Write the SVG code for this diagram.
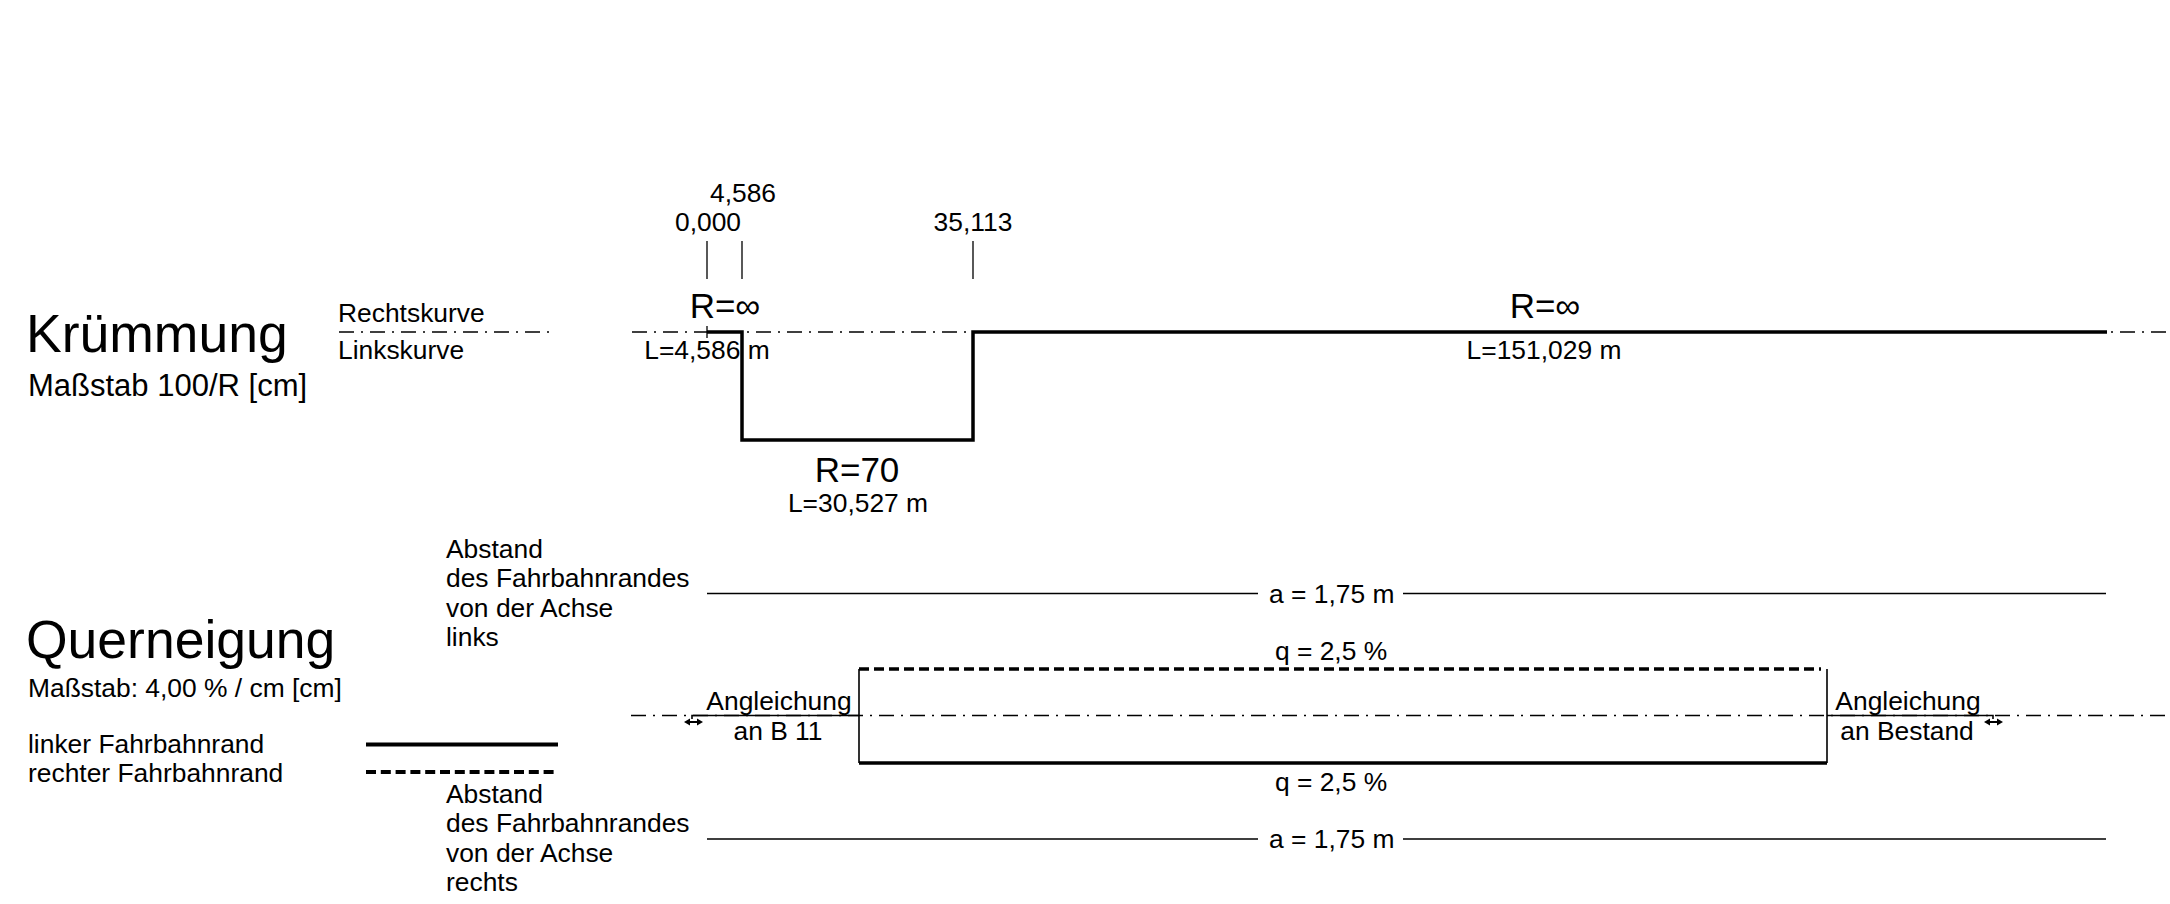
<svg xmlns="http://www.w3.org/2000/svg" width="2170" height="904" viewBox="0 0 2170 904">
<style>
text{font-family:"Liberation Sans",Arial,sans-serif;fill:#000;font-size:26.4px}
.big{font-size:53.5px}
.mid{font-size:31px}
.r{font-size:35px}
.c{text-anchor:middle}
.thin{stroke:#000;stroke-width:1.3;fill:none}
.axis{stroke:#000;stroke-width:1.3;fill:none;stroke-dasharray:15 7 2 7}
.thick{stroke:#000;stroke-width:3.5;fill:none}
.dash{stroke:#000;stroke-width:3.5;fill:none;stroke-dasharray:10 5}
.ah{fill:#000}
</style>
<rect width="2170" height="904" fill="#fff"/>

<g id="kruemmung">
  <text class="big" x="26" y="352">Krümmung</text>
  <text class="mid" x="28" y="396">Maßstab 100/R [cm]</text>
  <text x="338" y="322">Rechtskurve</text>
  <text x="338" y="359">Linkskurve</text>
  <path class="axis" d="M339,332 H555 M632,332 H2170"/>
  <g id="stations">
    <text class="c" x="743" y="202">4,586</text>
    <text class="c" x="708" y="231">0,000</text>
    <text class="c" x="973" y="231">35,113</text>
    <path class="thin" d="M707,241 V279 M742,241 V279 M973,241 V279 M707,326 V338"/>
  </g>
  <path id="curve" class="thick" d="M707,332 H742 V440 H973 V332 H2107"/>
  <text class="r c" x="725" y="318">R=∞</text>
  <text class="c" x="707" y="359">L=4,586 m</text>
  <text class="r c" x="857" y="482">R=70</text>
  <text class="c" x="858" y="512">L=30,527 m</text>
  <text class="r c" x="1545" y="318">R=∞</text>
  <text class="c" x="1544" y="359">L=151,029 m</text>
</g>

<g id="querneigung">
  <text class="big" x="26" y="658">Querneigung</text>
  <text x="28" y="697">Maßstab: 4,00 % / cm [cm]</text>
  <text x="28" y="753">linker Fahrbahnrand</text>
  <text x="28" y="782">rechter Fahrbahnrand</text>
  <g id="legend">
    <path class="thick" d="M366,744.5 H558" style="stroke-width:4"/>
    <path class="dash" d="M366,772 H558" style="stroke-width:4;stroke-dasharray:10 4.8"/>
  </g>
  <g id="abstand-links">
    <text x="446" y="558">Abstand</text>
    <text x="446" y="587">des Fahrbahnrandes</text>
    <text x="446" y="617">von der Achse</text>
    <text x="446" y="646">links</text>
    <path class="thin" d="M707,593.5 H1258 M1403,593.5 H2106"/>
    <text x="1269" y="603">a = 1,75 m</text>
  </g>
  <g id="abstand-rechts">
    <text x="446" y="803">Abstand</text>
    <text x="446" y="832">des Fahrbahnrandes</text>
    <text x="446" y="862">von der Achse</text>
    <text x="446" y="891">rechts</text>
    <path class="thin" d="M707,839 H1258 M1403,839 H2106"/>
    <text x="1269" y="848">a = 1,75 m</text>
  </g>
  <path class="axis" d="M631,715.5 H2170"/>
  <g id="profile">
    <path class="thin" d="M692,719 V715.5 H859 M1827,715.5 H1993 V719" style="stroke-width:1.6"/>
    <path class="thin" d="M859,669 V763 M1827,669 V763" style="stroke-width:1.6"/>
    <path class="dash" d="M859,669 H1821"/>
    <path class="thick" d="M859,763 H1827"/>
    <text class="c" x="1331" y="660">q = 2,5 %</text>
    <text class="c" x="1331" y="791">q = 2,5 %</text>
  </g>
  <g id="angleichung-links">
    <text class="c" x="779" y="710">Angleichung</text>
    <text class="c" x="778" y="740">an B 11</text>
    <path class="thin" d="M688,722 H699" style="stroke-width:2"/>
    <polygon class="ah" points="684,722 690,718.5 690,725.5"/>
    <polygon class="ah" points="703,722 697,718.5 697,725.5"/>
  </g>
  <g id="angleichung-rechts">
    <text class="c" x="1908" y="710">Angleichung</text>
    <text class="c" x="1907" y="740">an Bestand</text>
    <path class="thin" d="M1988,722 H1999" style="stroke-width:2"/>
    <polygon class="ah" points="1984,722 1990,718.5 1990,725.5"/>
    <polygon class="ah" points="2003,722 1997,718.5 1997,725.5"/>
  </g>
</g>
</svg>
